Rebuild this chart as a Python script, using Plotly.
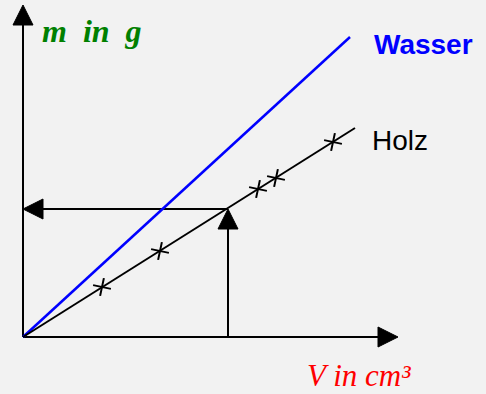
import plotly.graph_objects as go

# Values (units: origin at axis crossing)
holz_V = [79, 137, 235, 253, 310]
holz_m = [50, 86, 148, 159, 195]
holz_line_V = [0, 332]
holz_line_m = [0, 209]
wasser_line_V = [0, 327]
wasser_line_m = [0, 300]
axis_x_end = 375
axis_y_end = 332
read_V = 205
read_m = 128

BG = "#f2f2f2"
HEAD_L = 20
HEAD_W = 10

fig = go.Figure()

def line(xs, ys, color="black", width=2):
    fig.add_trace(go.Scatter(x=xs, y=ys, mode="lines",
                             line=dict(color=color, width=width),
                             hoverinfo="skip", showlegend=False))

def head(tx, ty, direction):
    if direction == "right":
        xs = [tx, tx - HEAD_L, tx - HEAD_L, tx]
        ys = [ty, ty + HEAD_W, ty - HEAD_W, ty]
    elif direction == "left":
        xs = [tx, tx + HEAD_L, tx + HEAD_L, tx]
        ys = [ty, ty + HEAD_W, ty - HEAD_W, ty]
    else:  # up
        xs = [tx, tx - HEAD_W, tx + HEAD_W, tx]
        ys = [ty, ty - HEAD_L, ty - HEAD_L, ty]
    fig.add_trace(go.Scatter(x=xs, y=ys, mode="lines", fill="toself",
                             fillcolor="black", line=dict(color="black", width=1),
                             hoverinfo="skip", showlegend=False))

# axes
line([0, axis_x_end - HEAD_L], [0, 0])
head(axis_x_end, 0, "right")
line([0, 0], [0, axis_y_end - HEAD_L])
head(0, axis_y_end, "up")

# reading arrows
line([read_V, read_V], [0, read_m - HEAD_L])
head(read_V, read_m, "up")
line([read_V, HEAD_L], [read_m, read_m])
head(0, read_m, "left")

# Wasser line
line(wasser_line_V, wasser_line_m, color="#0000ff", width=2.5)
# Holz line
line(holz_line_V, holz_line_m, color="black", width=2)
fig.add_trace(go.Scatter(x=holz_V, y=holz_m, mode="markers",
                         marker=dict(symbol="cross-thin", size=13, angle=12,
                                     color="black",
                                     line=dict(color="black", width=2)),
                         hoverinfo="skip", showlegend=False))

ann = [
    dict(x=69, y=306, text="m&nbsp; in&nbsp; g",
         font=dict(family="Liberation Serif", size=32, color="#008000", weight="bold", style="italic")),
    dict(x=336, y=-38, text="V in cm³",
         font=dict(family="Liberation Serif", size=31, color="#ff0000", style="italic")),
    dict(x=400, y=293, text="<b>Wasser</b>",
         font=dict(family="Liberation Sans", size=28, color="#0000ff")),
    dict(x=377, y=197, text="Holz",
         font=dict(family="Liberation Sans", size=28, color="black")),
]
for a in ann:
    fig.add_annotation(x=a["x"], y=a["y"], text=a["text"], font=a["font"],
                       showarrow=False, xanchor="center", yanchor="middle")

fig.update_layout(
    width=486, height=394,
    margin=dict(l=0, r=0, t=0, b=0),
    paper_bgcolor=BG, plot_bgcolor=BG,
    xaxis=dict(range=[-23, 463], visible=False, fixedrange=True),
    yaxis=dict(range=[-57, 337], visible=False, fixedrange=True),
)

fig.write_html("out.html", config={"staticPlot": True},
               post_script="document.body.style.margin='0px';document.body.style.overflow='hidden';")
